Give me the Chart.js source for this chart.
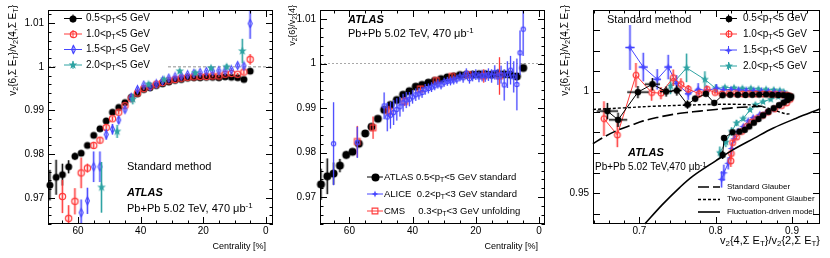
<!DOCTYPE html>
<html><head><meta charset="utf-8">
<script src="https://cdn.jsdelivr.net/npm/chart.js@4.4.1/dist/chart.umd.min.js"></script>
<style>
html,body{margin:0;padding:0;background:#fff;}
#wrap{position:relative;width:830px;height:258px;overflow:hidden;font-family:'Liberation Sans',Arial,Helvetica,sans-serif;color:#000;}
canvas{position:absolute;top:0;}
.t{position:absolute;white-space:pre;line-height:12px;font-size:11px;}
.t sub{font-size:72%;position:relative;top:0.3em;vertical-align:baseline;line-height:0;}
.t sup{font-size:72%;position:relative;top:-0.45em;vertical-align:baseline;line-height:0;}
.b{font-weight:bold;font-style:italic;}
.r{text-align:right;}
.rot{transform-origin:0 0;transform:rotate(-90deg);text-align:right;}
</style></head><body><div id="wrap">
<canvas id="c1" width="280" height="258" style="left:0px"></canvas>
<canvas id="c2" width="275" height="258" style="left:280px"></canvas>
<canvas id="c3" width="275" height="258" style="left:555px"></canvas>

<!-- panel 1 texts -->
<div class="t rot" style="font-size:10px;width:200px;left:7px;top:205px">v<sub>2</sub>{6,Σ E<sub>T</sub>}/v<sub>2</sub>{4,Σ E<sub>T</sub>}</div>
<div class="t r" style="font-size:9px;width:150px;left:116px;top:240px">Centrality [%]</div>
<div class="t" style="font-size:10px;left:86px;top:12px">0.5&lt;p<sub>T</sub>&lt;5 GeV</div>
<div class="t" style="font-size:10px;left:86px;top:28px">1.0&lt;p<sub>T</sub>&lt;5 GeV</div>
<div class="t" style="font-size:10px;left:86px;top:43px">1.5&lt;p<sub>T</sub>&lt;5 GeV</div>
<div class="t" style="font-size:10px;left:86px;top:59px">2.0&lt;p<sub>T</sub>&lt;5 GeV</div>
<div class="t" style="left:127px;top:160px">Standard method</div>
<div class="t b" style="left:127px;top:186px">ATLAS</div>
<div class="t" style="left:127px;top:202px">Pb+Pb 5.02 TeV, 470 μb<sup>-1</sup></div>

<!-- panel 2 texts -->
<div class="t rot" style="font-size:9px;width:200px;left:286px;top:205px">v<sub>2</sub>{6}/v<sub>2</sub>{4}</div>
<div class="t r" style="font-size:9px;width:150px;left:388px;top:240px">Centrality [%]</div>
<div class="t b" style="left:348px;top:13px">ATLAS</div>
<div class="t" style="left:348px;top:27px">Pb+Pb 5.02 TeV, 470 μb<sup>-1</sup></div>
<div class="t" style="font-size:9.5px;left:384px;top:171px">ATLAS 0.5&lt;p<sub>T</sub>&lt;5 GeV standard</div>
<div class="t" style="font-size:9.5px;left:384px;top:188px">ALICE  0.2&lt;p<sub>T</sub>&lt;3 GeV standard</div>
<div class="t" style="font-size:9.5px;left:384px;top:205px">CMS     0.3&lt;p<sub>T</sub>&lt;3 GeV unfolding</div>

<!-- panel 3 texts -->
<div class="t rot" style="font-size:10px;width:200px;left:559px;top:205px">v<sub>2</sub>{6,Σ E<sub>T</sub>}/v<sub>2</sub>{4,Σ E<sub>T</sub>}</div>
<div class="t r" style="font-size:11px;width:220px;left:600px;top:234px">v<sub>2</sub>{4,Σ E<sub>T</sub>}/v<sub>2</sub>{2,Σ E<sub>T</sub>}</div>
<div class="t" style="left:607px;top:13px">Standard method</div>
<div class="t" style="font-size:10px;left:743px;top:12px">0.5&lt;p<sub>T</sub>&lt;5 GeV</div>
<div class="t" style="font-size:10px;left:743px;top:28px">1.0&lt;p<sub>T</sub>&lt;5 GeV</div>
<div class="t" style="font-size:10px;left:743px;top:44px">1.5&lt;p<sub>T</sub>&lt;5 GeV</div>
<div class="t" style="font-size:10px;left:743px;top:60px">2.0&lt;p<sub>T</sub>&lt;5 GeV</div>
<div class="t b" style="left:628px;top:146px">ATLAS</div>
<div class="t" style="font-size:10px;left:595px;top:161px">Pb+Pb 5.02 TeV,470 μb<sup>-1</sup></div>
<div class="t" style="font-size:8px;left:727px;top:181px">Standard Glauber</div>
<div class="t" style="font-size:8px;left:727px;top:193px">Two-component Glauber</div>
<div class="t" style="font-size:8px;left:727px;top:206px">Fluctuation-driven model</div>
</div>
<script>
// ---------------- DATA ----------------
// Panel 1 & 2: ATLAS 0.5<pT<5 GeV (standard)
const centAtlas = [69,67,65,63,61,59,57,55,53,51,49,47,45,43,41,39,37,35,33,31,29,27,25,23,21,19,17,15,13,11,9,7,5];
const atlas05 = [0.9729,0.9747,0.9753,0.9771,0.9795,0.9802,0.9820,0.9843,0.9858,0.9876,0.9896,0.9907,0.9918,0.9930,0.9938,0.9948,0.9952,0.9957,0.9961,0.9965,0.9969,0.9971,0.9974,0.9975,0.9975,0.9976,0.9976,0.9975,0.9977,0.9976,0.9975,0.9971,0.9990];
const atlas05Err = [0.0035,0.0040,0.0025,0.0015,0.0008,0.0006,0.0005,0.0004,0.0004,0.0004,0.0004,0.0004,0.0003,0.0003,0.0003,0.0003,0.0003,0.0003,0.0003,0.0003,0.0003,0.0003,0.0003,0.0003,0.0003,0.0003,0.0003,0.0003,0.0003,0.0003,0.0003,0.0004,0.0006];
// 1.0<pT<5
const cent10 = [65,63,61,59,57,55,53,51,49,47,45,43,41,39,37,35,33,31,29,27,25,23,21,19,17,15,13,11,9,7,5];
const atlas10 = [0.9703,0.9653,0.9692,0.9757,0.9768,0.9820,0.9832,0.9861,0.9881,0.9896,0.9911,0.9927,0.9940,0.9950,0.9955,0.9960,0.9964,0.9968,0.9971,0.9974,0.9976,0.9977,0.9978,0.9978,0.9979,0.9979,0.9983,0.9985,0.9983,0.9988,1.0017];
const atlas10Err = [0.0038,0.0030,0.0030,0.0035,0.0010,0.0008,0.0007,0.0006,0.0005,0.0005,0.0004,0.0004,0.0003,0.0003,0.0003,0.0003,0.0003,0.0003,0.0003,0.0003,0.0003,0.0003,0.0003,0.0003,0.0003,0.0003,0.0003,0.0003,0.0003,0.0006,0.0012];
// 1.5<pT<5
const cent15 = [59,57,55,53,51,49,47,45,43,41,39,37,35,33,31,29,27,25,23,21,19,17,15,13,11,9,7,5];
const atlas15 = [0.9666,0.9693,0.9771,0.9771,0.9845,0.9857,0.9878,0.9902,0.9930,0.9948,0.9958,0.9955,0.9961,0.9968,0.9974,0.9977,0.9979,0.9982,0.9985,0.9987,0.9989,0.9990,0.9991,0.9991,0.9993,1.0003,1.0002,1.0099];
const atlas15Err = [0.0030,0.0030,0.0035,0.0035,0.0012,0.0012,0.0008,0.0006,0.0006,0.0005,0.0004,0.0004,0.0004,0.0004,0.0004,0.0004,0.0004,0.0004,0.0004,0.0004,0.0004,0.0004,0.0004,0.0004,0.0004,0.0005,0.0006,0.0035];
// 2.0<pT<5
const cent20 = [52.5,47.5,42.5,37.5,32.5,27.5,22.5,17.5,12.5,7.5];
const atlas20 = [0.9724,0.9852,0.9926,0.9960,0.9971,0.9990,0.9986,0.9997,1.0000,1.0036];
const atlas20Err = [0.0058,0.0015,0.0012,0.0005,0.0004,0.0004,0.0004,0.0005,0.0006,0.0028];
// Panel 2: ALICE 0.2<pT<3 standard
const centAlice = [65,57.5,49,48,47,46,45,44,43,42,41,40,39,38,37,36,35,34,33,32,31,30,29,28,27,26,25,24,23,22,21,20,19,18,17,16,15,14,13,12,11,10,9,8,7,6,5];
const alice = [0.9820,0.9823,0.9905,0.9880,0.9884,0.9890,0.9897,0.9903,0.9912,0.9918,0.9920,0.9925,0.9930,0.9932,0.9935,0.9942,0.9944,0.9947,0.9950,0.9954,0.9952,0.9958,0.9960,0.9961,0.9963,0.9965,0.9970,0.9968,0.9978,0.9966,0.9972,0.9975,0.9970,0.9973,0.9972,0.9975,0.9972,0.9980,0.9970,0.9975,0.9952,0.9975,0.9985,0.9970,0.9953,1.0024,1.0077];
const aliceErr = [0.0093,0.0035,0.0030,0.0032,0.0030,0.0028,0.0025,0.0022,0.0020,0.0018,0.0016,0.0015,0.0014,0.0013,0.0012,0.0012,0.0011,0.0011,0.0010,0.0010,0.0010,0.0010,0.0010,0.0010,0.0010,0.0010,0.0010,0.0011,0.0011,0.0011,0.0012,0.0012,0.0012,0.0013,0.0013,0.0014,0.0015,0.0016,0.0018,0.0020,0.0035,0.0030,0.0032,0.0035,0.0058,0.0050,0.0060];
// Panel 2: CMS 0.3<pT<3 unfolding
const centCms = [57.5,52.5,47.5,42.5,37.5,32.5,27.5,22.5,17.5,12.5];
const cms = [0.9825,0.9856,0.9893,0.9915,0.9943,0.9962,0.9971,0.9975,0.9972,0.9972];
const cmsErr = [0.0035,0.0025,0.0012,0.0010,0.0006,0.0005,0.0005,0.0007,0.0015,0.0042];
// Panel 3: v2{4}/v2{2} (x) vs v2{6}/v2{4} (y)
const p3x05 = [0.658,0.672,0.698,0.717,0.735,0.749,0.763,0.773,0.787,0.798,0.809,0.819,0.829,0.839,0.848,0.857,0.866,0.874,0.882,0.889,0.895,0.899,0.898,0.894,0.889,0.883,0.876,0.869,0.862,0.856,0.850,0.844,0.838,0.831,0.822,0.811,0.809];
const p3y05 = [0.9904,0.9861,0.9997,1.0036,1.0000,1.0005,0.9936,0.9965,0.9989,0.9944,0.9982,0.9984,0.9984,0.9983,0.9984,0.9985,0.9986,0.9984,0.9983,0.9982,0.9980,0.9976,0.9968,0.9958,0.9946,0.9933,0.9918,0.9901,0.9883,0.9865,0.9847,0.9829,0.9812,0.9803,0.9800,0.9772,0.9689];
const p3ey05 = [0.0040,0.0035,0.0030,0.0030,0.0025,0.0025,0.0020,0.0015,0.0012,0.0010,0.0005,0.0005,0.0005,0.0005,0.0005,0.0005,0.0005,0.0005,0.0005,0.0005,0.0005,0.0005,0.0005,0.0005,0.0005,0.0005,0.0005,0.0005,0.0005,0.0005,0.0005,0.0005,0.0005,0.0005,0.0008,0.0010,0.0020];
const p3ex05 = [0.014,0.012,0.014,0.010,0.008,0.006,0.005,0.004,0.003,0.003,0,0,0,0,0,0,0,0,0,0,0,0,0,0,0,0,0,0,0,0,0,0,0,0,0,0,0];
const p3x10 = [0.6535,0.671,0.6954,0.716,0.7282,0.7443,0.7544,0.764,0.7783,0.7888,0.799,0.808,0.817,0.826,0.835,0.844,0.853,0.862,0.871,0.879,0.887,0.893,0.897,0.8975,0.8928,0.8862,0.8775,0.8687,0.8614,0.8535,0.847,0.8404,0.8339,0.8273,0.822,0.8204,0.8198];
const p3y10 = [0.9867,0.9787,1.0080,0.9995,0.9992,1.0068,1.0035,1.0012,0.9989,1.0011,0.9995,0.9988,0.9990,0.9990,0.9988,0.9989,0.9988,0.9988,0.9987,0.9986,0.9985,0.9983,0.9978,0.9962,0.9944,0.9931,0.9915,0.9899,0.9883,0.9867,0.9851,0.9829,0.9804,0.9776,0.9749,0.9696,0.9660];
const p3ey10 = [0.0085,0.0060,0.0060,0.0040,0.0030,0.0040,0.0030,0.0020,0.0020,0.0015,0.0010,0.0010,0.0010,0.0010,0.0010,0.0010,0.0010,0.0010,0.0010,0.0010,0.0010,0.0010,0.0008,0.0008,0.0008,0.0008,0.0008,0.0008,0.0008,0.0008,0.0008,0.0008,0.0008,0.0010,0.0015,0.0020,0.0030];
const p3x15 = [0.6876,0.705,0.7233,0.7377,0.7487,0.7639,0.777,0.788,0.8011,0.810,0.820,0.830,0.840,0.850,0.860,0.869,0.877,0.884,0.890,0.894,0.895,0.891,0.884,0.8753,0.8666,0.8578,0.849,0.8425,0.836,0.8294,0.8242,0.8208,0.8163,0.8107,0.8077];
const p3y15 = [1.0216,1.0120,1.0060,1.0120,1.0040,0.9989,1.0011,1.0005,1.0016,1.0008,1.0010,1.0008,1.0006,1.0004,1.0002,1.0001,0.9998,0.9995,0.9990,0.9982,0.9972,0.9955,0.9931,0.9915,0.9899,0.9888,0.9872,0.9856,0.9829,0.9804,0.9768,0.9720,0.9648,0.9601,0.9569];
const p3ey15 = [0.0110,0.0070,0.0050,0.0060,0.0040,0.0030,0.0030,0.0025,0.0020,0.0010,0.0010,0.0010,0.0010,0.0010,0.0010,0.0010,0.0010,0.0010,0.0010,0.0010,0.0010,0.0010,0.0010,0.0010,0.0010,0.0010,0.0010,0.0010,0.0010,0.0015,0.0020,0.0030,0.0030,0.0040,0.0040];
const p3ex15 = [0.006,0.006,0.005,0.005,0.004,0.004,0.003,0.003,0.002,0,0,0,0,0,0,0,0,0,0,0,0,0,0,0,0,0,0,0,0,0,0,0,0,0,0];
const p3x20 = [0.7408,0.7618,0.7858,0.800,0.812,0.824,0.835,0.846,0.856,0.866,0.876,0.884,0.889,0.890,0.882,0.872,0.862,0.852,0.845,0.836,0.8273,0.8208,0.8133,0.8054];
const p3y20 = [1.0027,1.0116,1.0059,1.0015,1.0020,1.0018,1.0015,1.0015,1.0012,1.0010,1.0008,1.0005,0.9998,0.9988,0.9975,0.9962,0.9950,0.9935,0.9910,0.9867,0.9845,0.9804,0.9752,0.9700];
const p3ey20 = [0.0040,0.0070,0.0040,0.0020,0.0010,0.0010,0.0010,0.0010,0.0010,0.0010,0.0010,0.0010,0.0010,0.0010,0.0010,0.0010,0.0010,0.0010,0.0010,0.0010,0.0015,0.0020,0.0025,0.0030];
const p3ex20 = [0,0,0,0,0,0,0,0,0,0,0,0,0,0,0,0,0,0,0,0,0,0,0.003,0.003];
// Panel 3 model curves
const stdGlauberX = [0.639,0.655,0.672,0.690,0.705,0.725,0.744,0.762,0.779,0.800,0.823,0.845,0.865];
const stdGlauberY = [0.9744,0.9780,0.9811,0.9836,0.9856,0.9874,0.9888,0.9897,0.9904,0.9912,0.9920,0.9925,0.9928];
const twoCompX = [0.639,0.680,0.720,0.760,0.800,0.830,0.850,0.865,0.875,0.885,0.893,0.898];
const twoCompY = [0.9912,0.9920,0.9928,0.9933,0.9937,0.9937,0.9933,0.9922,0.9910,0.9898,0.9890,0.9891];
const flucX = [0.707,0.730,0.753,0.770,0.800,0.823,0.850,0.875,0.905,0.937];
const flucY = [0.935,0.9445,0.9530,0.9585,0.9660,0.9715,0.9770,0.9820,0.9868,0.9915];
// Tick labels
const xTicksCent = [60,40,20,0];
const yTicks12 = [0.97,0.98,0.99,1,1.01];
const xTicks3 = [0.7,0.8,0.9];
const yTicks3 = [0.95,1];

// ---------------- STYLE / HELPERS ----------------
Chart.defaults.font.family = "'Liberation Sans', Arial, Helvetica, sans-serif";
Chart.defaults.font.size = 10;
Chart.defaults.color = '#000';
const COL = {k:'#000000', r:'#ff3a3a', b:'#4646ff', t:'#2ea3a3'};
const SYS = {k:'rgba(0,0,0,0.28)', r:'rgba(255,70,70,0.3)', b:'rgba(70,70,255,0.28)', t:'rgba(46,163,163,0.3)'};

function mk(type,d,color,lw){
  const s=Math.ceil(d)+3; const c=document.createElement('canvas'); c.width=s;c.height=s;
  const g=c.getContext('2d'); const m=s/2, r=d/2; g.fillStyle=color; g.strokeStyle=color; g.lineWidth=lw||1.1;
  g.beginPath();
  if(type==='dot'){g.arc(m,m,r,0,Math.PI*2);g.fill();}
  else if(type==='ocircle'){g.arc(m,m,r-0.6,0,Math.PI*2);g.stroke();}
  else if(type==='osquare'){g.rect(m-r+0.6,m-r+0.6,d-1.2,d-1.2);g.stroke();}
  else if(type==='odiamond'){g.moveTo(m,m-r);g.lineTo(m+r*0.5,m);g.lineTo(m,m+r);g.lineTo(m-r*0.5,m);g.closePath();g.stroke();}
  else if(type==='star5'){for(let k=0;k<10;k++){const rr=k%2?r*0.42:r;const a=-Math.PI/2+k*Math.PI/5;g.lineTo(m+rr*Math.cos(a),m+rr*Math.sin(a));}g.closePath();g.fill();}
  else if(type==='star4'){for(let k=0;k<8;k++){const rr=k%2?r*0.38:r;const a=-Math.PI/2+k*Math.PI/4;g.lineTo(m+rr*Math.cos(a),m+rr*Math.sin(a));}g.closePath();g.fill();}
  return c;
}
const pts=(xs,ys)=>xs.map((x,i)=>({x:x,y:ys[i]}));

function line(ctx,x1,y1,x2,y2){ctx.beginPath();ctx.moveTo(x1,y1);ctx.lineTo(x2,y2);ctx.stroke();}

const errPlugin={id:'errbars',beforeDatasetDraw(chart,args){
  const ds=chart.data.datasets[args.index]; if(!ds.yErr&&!ds.xErr) return;
  const {ctx,chartArea:a,scales:{x,y}}=chart;
  ctx.save(); ctx.beginPath(); ctx.rect(a.left,a.top,a.right-a.left,a.bottom-a.top); ctx.clip();
  ds.data.forEach((d,i)=>{
    const px=x.getPixelForValue(d.x), py=y.getPixelForValue(d.y);
    const ey=ds.yErr?ds.yErr[i]:0, ex=ds.xErr?ds.xErr[i]:0;
    if(ey){const y1=y.getPixelForValue(d.y-ey), y2=y.getPixelForValue(d.y+ey);
      ctx.strokeStyle=ds.sysColor; ctx.lineWidth=ds.sysWidth||3; line(ctx,px,y1,px,y2);
      ctx.strokeStyle=ds.errColor; ctx.lineWidth=1; line(ctx,px,y1,px,y2);}
    if(ex){const x1=x.getPixelForValue(d.x-ex), x2=x.getPixelForValue(d.x+ex);
      ctx.strokeStyle=ds.sysColor; ctx.lineWidth=ds.sysWidth||3; line(ctx,x1,py,x2,py);
      ctx.strokeStyle=ds.errColor; ctx.lineWidth=1; line(ctx,x1,py,x2,py);}
  });
  ctx.restore();
}};

function framePlugin(cfg){return {id:'frame',afterDraw(chart){
  const {ctx,chartArea:a,scales:{x,y}}=chart;
  ctx.save(); ctx.strokeStyle='#000'; ctx.lineWidth=1;
  ctx.strokeRect(a.left+0.5,a.top+0.5,a.right-a.left-1,a.bottom-a.top-1);
  const vals=(s,step)=>{const out=[];const n0=Math.ceil(s.min/step-1e-6),n1=Math.floor(s.max/step+1e-6);for(let n=n0;n<=n1;n++)out.push(n*step);return out;};
  const doX=(step,len)=>{if(!step)return;vals(x,step).forEach(v=>{const p=Math.round(x.getPixelForValue(v))+0.5;line(ctx,p,a.bottom,p,a.bottom-len);line(ctx,p,a.top,p,a.top+len);});};
  const doY=(step,len)=>{if(!step)return;vals(y,step).forEach(v=>{const p=Math.round(y.getPixelForValue(v))+0.5;line(ctx,a.left,p,a.left+len,p);line(ctx,a.right,p,a.right-len,p);});};
  doX(cfg.xMinor,3.5);doX(cfg.xMajor,7);doY(cfg.yMinor,3.5);doY(cfg.yMajor,7);
  ctx.restore();
}};}

function refPlugin(cfg){return {id:'refline',beforeDatasetsDraw(chart){
  const {ctx,chartArea:a,scales:{y}}=chart; const p=y.getPixelForValue(cfg.y);
  ctx.save(); ctx.strokeStyle=cfg.color; ctx.lineWidth=cfg.width; ctx.setLineDash(cfg.dash); line(ctx,a.left,p,a.right,p); ctx.restore();
}};}

function legPlugin(cfg){return {id:'lmarks',afterDraw(chart){
  const ctx=chart.ctx; ctx.save();
  if(cfg.box){ctx.fillStyle='#fff';ctx.fillRect(cfg.box[0],cfg.box[1],cfg.box[2],cfg.box[3]);}
  cfg.items.forEach(it=>{
    ctx.strokeStyle=it.color; ctx.lineWidth=it.lw||1; ctx.setLineDash(it.dash||[]);
    line(ctx,it.x1,it.y,it.x2,it.y); ctx.setLineDash([]);
    if(it.img){const cx=(it.x1+it.x2)/2; if(it.bar){line(ctx,cx,it.y-4,cx,it.y+4);} ctx.drawImage(it.img,Math.round(cx-it.img.width/2),Math.round(it.y-it.img.height/2));}
  });
  ctx.restore();
}};}

function scales(xmin,xmax,ymin,ymax,xt,yt,rev,yw,xh){
  return {
    x:{type:'linear',min:xmin,max:xmax,reverse:rev,grid:{display:false,drawTicks:false},border:{display:false},
       ticks:{padding:1,autoSkip:false,maxRotation:0,minRotation:0,font:{size:10},callback:v=>String(v)},
       afterBuildTicks:s=>{s.ticks=xt.map(v=>({value:v}));}, afterFit:s=>{s.height=xh;}},
    y:{type:'linear',min:ymin,max:ymax,grid:{display:false,drawTicks:false},border:{display:false},
       ticks:{padding:4,autoSkip:false,font:{size:10},callback:v=>String(v)},
       afterBuildTicks:s=>{s.ticks=yt.map(v=>({value:v}));}, afterFit:s=>{s.width=yw;}}
  };
}
function baseOpts(sc,pad){return {responsive:false,animation:false,devicePixelRatio:1,events:[],layout:{padding:pad},
  plugins:{legend:{display:false},tooltip:{enabled:false}},scales:sc};}

function sds(xs,ys,err,img,key,extra){return Object.assign({data:pts(xs,ys),yErr:err,pointStyle:img,pointRadius:3.5,showLine:false,clip:8,
  sysColor:SYS[key],errColor:COL[key],borderColor:COL[key],backgroundColor:COL[key]},extra||{});}

// ---------------- PANEL 1 ----------------
const m1 = {k:mk('dot',7,COL.k), r:mk('ocircle',7.5,COL.r,1.2), b:mk('odiamond',8,COL.b,1.1), t:mk('star5',9,COL.t)};
new Chart(document.getElementById('c1'),{type:'scatter',
  data:{datasets:[
    sds(cent20,atlas20,atlas20Err,m1.t,'t'),
    sds(cent15,atlas15,atlas15Err,m1.b,'b'),
    sds(cent10,atlas10,atlas10Err,m1.r,'r'),
    sds(centAtlas,atlas05,atlas05Err,m1.k,'k')
  ]},
  options:baseOpts(scales(-2.3,69.6,0.964,1.013,xTicksCent,yTicks12,true,48,34),{top:5,right:7,left:0,bottom:0}),
  plugins:[errPlugin,refPlugin({y:1,color:'#b4b4b4',width:1.5,dash:[3,2]}),framePlugin({xMajor:20,xMinor:5,yMajor:0.01,yMinor:0.002}),
    legPlugin({box:[58,11,109,60],items:[
      {x1:64,x2:82,y:18.5,color:COL.k,img:m1.k,bar:true},
      {x1:64,x2:82,y:34,color:COL.r,img:m1.r,bar:true},
      {x1:64,x2:82,y:49.5,color:COL.b,img:m1.b,bar:true},
      {x1:64,x2:82,y:65,color:COL.t,img:m1.t,bar:true}]})]
});

// ---------------- PANEL 2 ----------------
const m2 = {k:mk('dot',8,COL.k), b:mk('ocircle',5.5,COL.b,1.1), r:mk('osquare',7,COL.r,1.1), bl:mk('star4',7,COL.b)};
new Chart(document.getElementById('c2'),{type:'scatter',
  data:{datasets:[
    sds(centAlice,alice,aliceErr,m2.b,'b',{sysWidth:2}),
    sds(centCms,cms,cmsErr,m2.r,'r',{sysWidth:2}),
    sds(centAtlas,atlas05,atlas05Err,m2.k,'k')
  ]},
  options:baseOpts(scales(-1.9,69.3,0.964,1.012,xTicksCent,yTicks12,true,40,34),{top:5,right:10,left:0,bottom:0}),
  plugins:[errPlugin,refPlugin({y:1,color:'#a8a8a8',width:1,dash:[2,2]}),framePlugin({xMajor:20,xMinor:5,yMajor:0.01,yMinor:0.002}),
    legPlugin({items:[
      {x1:87,x2:103,y:177,color:COL.k,img:m2.k},
      {x1:87,x2:103,y:194,color:COL.b,img:m2.bl},
      {x1:87,x2:103,y:211,color:COL.r,img:m2.r}]})]
});

// ---------------- PANEL 3 ----------------
const m3 = {k:mk('dot',6.5,COL.k), r:mk('ocircle',7,COL.r,1.2), b:mk('star4',8,COL.b), t:mk('star5',8.5,COL.t)};
function lds(xs,ys,ey,ex,img,key){return Object.assign(sds(xs,ys,ey,img,key),{xErr:ex,showLine:true,borderWidth:1,tension:0});}
function mds(xs,ys,dash,w){return {data:pts(xs,ys),showLine:true,pointRadius:0,borderColor:'#000',borderWidth:w,borderDash:dash,tension:0.35,clip:1};}
new Chart(document.getElementById('c3'),{type:'scatter',
  data:{datasets:[
    mds(stdGlauberX,stdGlauberY,[11,4],1.6),
    mds(twoCompX,twoCompY,[3,2],1.4),
    mds(flucX,flucY,[],1.6),
    lds(p3x05,p3y05,p3ey05,p3ex05,m3.k,'k'),
    lds(p3x10,p3y10,p3ey10,null,m3.r,'r'),
    lds(p3x15,p3y15,p3ey15,p3ex15,m3.b,'b'),
    lds(p3x20,p3y20,p3ey20,p3ex20,m3.t,'t')
  ]},
  options:baseOpts(scales(0.6391,0.9367,0.935,1.04,xTicks3,yTicks3,false,38,34),{top:5,right:10,left:0,bottom:0}),
  plugins:[errPlugin,framePlugin({xMajor:0.1,xMinor:0.02,yMajor:0.01,yMinor:0}),
    legPlugin({items:[
      {x1:165,x2:182,y:18.5,color:COL.k,img:m3.k,bar:true},
      {x1:165,x2:182,y:34,color:COL.r,img:m3.r,bar:true},
      {x1:165,x2:182,y:50,color:COL.b,img:m3.b,bar:true},
      {x1:165,x2:182,y:66,color:COL.t,img:m3.t,bar:true},
      {x1:143,x2:165,y:187,color:'#000',lw:1.6,dash:[11,4]},
      {x1:143,x2:165,y:199.5,color:'#000',lw:1.4,dash:[3,2]},
      {x1:143,x2:165,y:212,color:'#000',lw:1.6}]})]
});
</script></body></html>
